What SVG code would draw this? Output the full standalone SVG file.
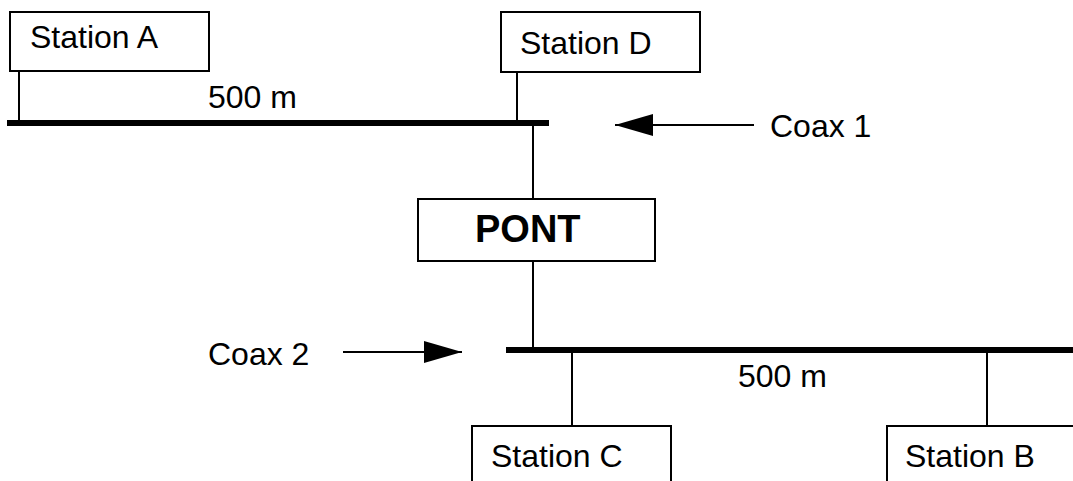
<svg xmlns="http://www.w3.org/2000/svg" width="1073" height="481" viewBox="0 0 1073 481">
<defs>
<style>
.box{fill:#fff;stroke:#000;stroke-width:2}
.t{font-family:"Liberation Sans",Arial,sans-serif;font-size:32px;fill:#000}
.b{font-family:"Liberation Sans",Arial,sans-serif;font-size:38px;font-weight:bold;fill:#000}
.thin{stroke:#000;stroke-width:2;fill:none}
.bus{stroke:#000;stroke-width:6;fill:none}
</style>
<marker id="ah" markerUnits="userSpaceOnUse" markerWidth="40" markerHeight="22" refX="38" refY="11" orient="auto">
<path d="M0,0 L38,11 L0,22 Z" fill="#000"/>
</marker>
</defs>
<rect width="1073" height="481" fill="#fff"/>
<g id="connectors">
<line class="bus" x1="7" y1="123" x2="549" y2="123"/>
<line class="bus" x1="506" y1="350" x2="1073" y2="350"/>
<line class="thin" x1="19" y1="71" x2="19" y2="121"/>
<line class="thin" x1="517" y1="71" x2="517" y2="121"/>
<line class="thin" x1="533" y1="125" x2="533" y2="199"/>
<line class="thin" x1="533" y1="261" x2="533" y2="348"/>
<line class="thin" x1="572" y1="352" x2="572" y2="426"/>
<line class="thin" x1="987" y1="352" x2="987" y2="426"/>
<line class="thin" x1="754" y1="125" x2="615" y2="125" marker-end="url(#ah)"/>
<line class="thin" x1="343" y1="352" x2="462" y2="352" marker-end="url(#ah)"/>
</g>
<g id="stationA">
<rect class="box" x="10" y="12" width="199" height="59"/>
<text class="t" x="30" y="48">Station A</text>
</g>
<g id="stationD">
<rect class="box" x="501" y="12" width="199" height="60"/>
<text class="t" x="520" y="54">Station D</text>
</g>
<g id="pont">
<rect class="box" x="418" y="199" width="237" height="62"/>
<text class="b" x="475" y="242">PONT</text>
</g>
<g id="stationC">
<rect class="box" x="472" y="426" width="199" height="70"/>
<text class="t" x="491" y="467">Station C</text>
</g>
<g id="stationB">
<rect class="box" x="887" y="426" width="199" height="70"/>
<text class="t" x="905" y="467">Station B</text>
</g>
<g id="labels">
<text class="t" x="208" y="108">500 m</text>
<text class="t" x="738" y="387">500 m</text>
<text class="t" x="770" y="137">Coax 1</text>
<text class="t" x="208" y="365">Coax 2</text>
</g>
</svg>
